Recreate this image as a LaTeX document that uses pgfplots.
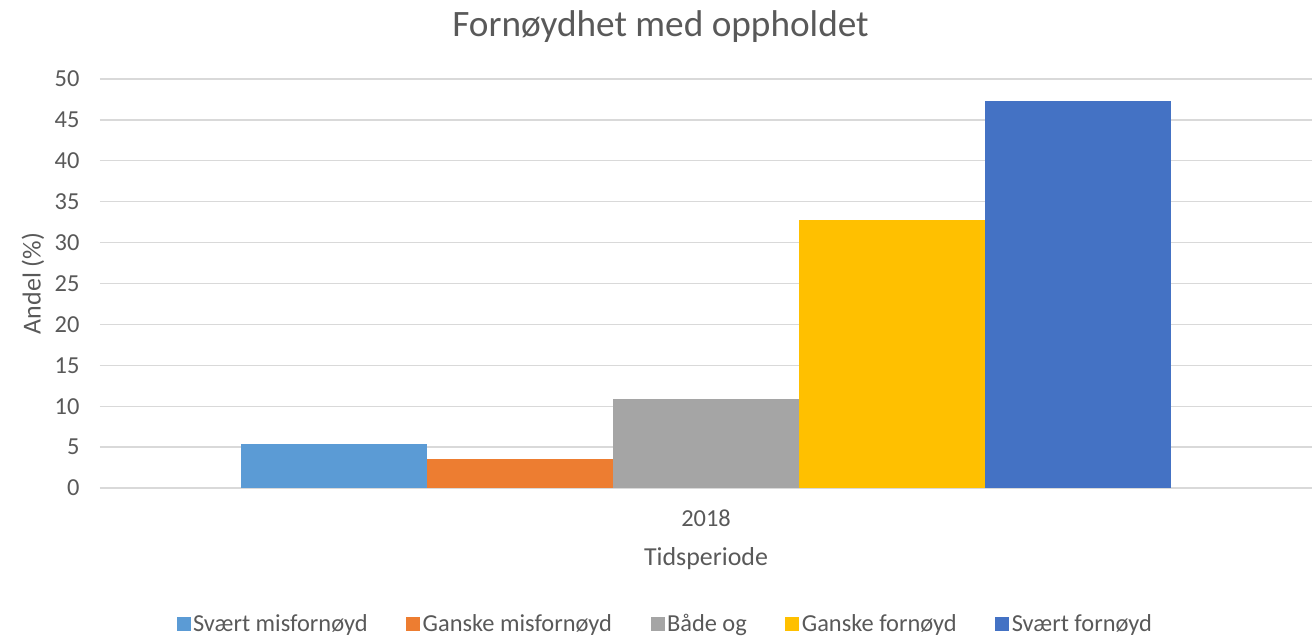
\documentclass[border=0pt]{standalone}
\usepackage{fontspec}
\setmainfont{Carlito}
\usepackage{pgfplots}
\pgfplotsset{compat=1.18}
\definecolor{txt}{HTML}{595959}
\definecolor{gridc}{HTML}{D9D9D9}
\definecolor{c1}{HTML}{5B9BD5}
\definecolor{c2}{HTML}{ED7D31}
\definecolor{c3}{HTML}{A5A5A5}
\definecolor{c4}{HTML}{FFC000}
\definecolor{c5}{HTML}{4472C4}
\begin{document}
\begin{tikzpicture}
\begin{axis}[
  scale only axis,
  width=1212bp, height=409bp,
  ybar=0pt, bar width=186bp,
  xmin=-0.65, xmax=0.65,
  ymin=0, ymax=50,
  ytick={0,5,...,50},
  xtick={0}, xticklabels={2018},
  axis line style={draw=none},
  tick style={draw=none},
  ymajorgrids, xmajorgrids=false,
  grid style={draw=gridc, line width=1.3bp},
  /pgf/number format/assume math mode=true,
  ticklabel style={font=\fontsize{24.5}{28}\selectfont, text=txt},
  yticklabel style={xshift=-17bp},
  xticklabel style={yshift=-14bp},
  xlabel={Tidsperiode},
  ylabel={Andel (\%)},
  label style={font=\fontsize{26}{30}\selectfont, text=txt},
  xlabel style={at={(axis description cs:0.5,0)}, anchor=center, yshift=-71bp},
  ylabel style={at={(axis description cs:-0.0553,0.5)}, anchor=center},
  title={Fornøydhet med oppholdet},
  title style={font=\fontsize{37.4}{42}\selectfont, text=txt, at={(axis description cs:0.4625,1)}, anchor=center, yshift=46bp},
  legend columns=5,
  legend style={draw=none, fill=none, at={(axis description cs:0.4666,0)}, anchor=center, yshift=-136bp,
    font=\fontsize{24.5}{28}\selectfont, text=txt,
    nodes={inner xsep=2.5bp},
    /tikz/every even column/.append style={column sep=36bp}},
  legend image code/.code={\fill[#1] (0bp,-7bp) rectangle (14bp,7bp);},
]
\addplot[fill=c1, draw=none] coordinates {(0,5.4)};
\addplot[fill=c2, draw=none] coordinates {(0,3.58)};
\addplot[fill=c3, draw=none] coordinates {(0,10.9)};
\addplot[fill=c4, draw=none] coordinates {(0,32.75)};
\addplot[fill=c5, draw=none] coordinates {(0,47.3)};
\legend{Svært misfornøyd, Ganske misfornøyd, Både og, Ganske fornøyd, Svært fornøyd}
\end{axis}
\pgfresetboundingbox
\path[use as bounding box] (-100bp,-151bp) rectangle (1213bp,488bp);
\end{tikzpicture}
\end{document}
